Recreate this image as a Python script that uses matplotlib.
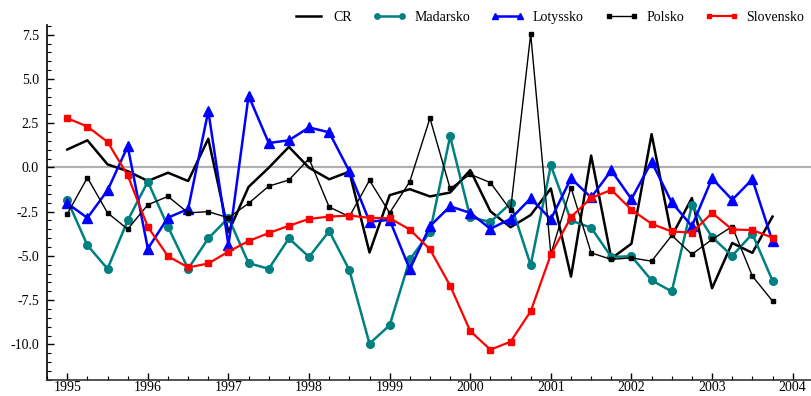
import numpy as np
import matplotlib
matplotlib.use("Agg")
import matplotlib.pyplot as plt
from matplotlib.ticker import MultipleLocator, FormatStrFormatter

# Čtvrtletní údaje 1995Q1 - 2003Q4
roky = 1995 + np.arange(36) / 4.0

cr = [1.01, 1.53, 0.17, -0.21, -0.77, -0.30, -0.77, 1.62, -3.66, -1.10, -0.02, 1.16,
      -0.02, -0.67, -0.24, -4.81, -1.57, -1.23, -1.64, -1.42, -0.15, -2.48, -3.38, -2.69,
      -1.19, -6.17, 0.67, -5.15, -4.31, 1.88, -3.88, -1.73, -6.83, -4.27, -4.83, -2.78]

madarsko = [-1.83, -4.40, -5.73, -3.00, -0.80, -3.36, -5.73, -4.01, -2.85, -5.41, -5.73, -4.01,
            -5.06, -3.60, -5.80, -9.96, -8.92, -5.20, -3.66, 1.75, -2.82, -3.08, -2.03, -5.52,
            0.11, -3.00, -3.41, -5.06, -5.02, -6.38, -7.01, -2.13, -3.94, -5.00, -3.75, -6.40]

lotyssko = [-2.03, -2.85, -1.30, 1.19, -4.59, -2.84, -2.35, 3.19, -4.40, 4.05, 1.38, 1.53,
            2.26, 1.98, -0.22, -3.06, -2.97, -5.76, -3.32, -2.20, -2.57, -3.47, -2.91, -1.75,
            -2.93, -0.62, -1.70, -0.17, -1.79, 0.32, -1.98, -3.32, -0.62, -1.83, -0.67, -4.18]

polsko = [-2.63, -0.58, -2.57, -3.49, -2.11, -1.64, -2.57, -2.50, -2.85, -2.03, -1.06, -0.71,
          0.49, -2.24, -2.78, -0.73, -2.57, -0.80, 2.78, -1.19, -0.39, -0.86, -2.41, 7.54,
          -4.90, -1.14, -4.83, -5.20, -5.11, -5.30, -3.84, -4.91, -4.07, -3.34, -6.14, -7.55]

slovensko = [2.78, 2.31, 1.44, -0.45, -3.36, -5.02, -5.65, -5.43, -4.76, -4.16, -3.71, -3.30,
             -2.91, -2.78, -2.72, -2.85, -2.87, -3.51, -4.63, -6.68, -9.25, -10.30, -9.85, -8.13,
             -4.92, -2.80, -1.73, -1.27, -2.39, -3.19, -3.62, -3.69, -2.57, -3.51, -3.54, -3.97]

plt.rcParams["font.family"] = ["Liberation Serif", "DejaVu Serif"]
plt.rcParams["axes.unicode_minus"] = False

fig = plt.figure(figsize=(8.12, 3.96), dpi=100)
ax = fig.add_axes([0.058, 0.041, 0.942, 0.896])

# nulová linie
ax.axhline(0, color="#b0b0b0", lw=1.6, zorder=1)

ax.plot(roky, cr, color="black", lw=1.8, label="CR", zorder=3)
ax.plot(roky, madarsko, color="#008080", lw=1.8, marker="o", ms=5.5, label="Madarsko", zorder=3)
ax.plot(roky, lotyssko, color="blue", lw=1.8, marker="^", ms=7, label="Lotyssko", zorder=3)
ax.plot(roky, polsko, color="black", lw=1.0, marker="s", ms=3.5, label="Polsko", zorder=3)
ax.plot(roky, slovensko, color="red", lw=1.6, marker="s", ms=4, label="Slovensko", zorder=4)

ax.set_xlim(1994.75, 2004.24)
ax.set_ylim(-12, 8.05)

ax.xaxis.set_major_locator(MultipleLocator(1))
ax.xaxis.set_minor_locator(MultipleLocator(0.25))
ax.yaxis.set_major_locator(MultipleLocator(2.5))
ax.yaxis.set_minor_locator(MultipleLocator(0.5))
ax.yaxis.set_major_formatter(FormatStrFormatter("%.1f"))
ax.xaxis.set_major_formatter(FormatStrFormatter("%d"))

ax.tick_params(which="both", direction="in", labelsize=10, colors="black")
ax.tick_params(which="major", length=5, width=1)
ax.tick_params(which="minor", length=3, width=0.8)
ax.tick_params(axis="x", pad=1)
ax.tick_params(axis="y", pad=6)

for s in ["top", "right"]:
    ax.spines[s].set_visible(False)
ax.spines["left"].set_linewidth(1.2)
ax.spines["bottom"].set_linewidth(1.2)
ax.spines["bottom"].set_color("#333333")

ax.legend(loc="center right", bbox_to_anchor=(0.99, 1.02), ncol=5, frameon=False,
          fontsize=10, numpoints=2, markerscale=0.7, handlelength=2.4,
          columnspacing=1.5, handletextpad=0.6, borderaxespad=0, borderpad=0)

fig.savefig("out.png", dpi=100)
